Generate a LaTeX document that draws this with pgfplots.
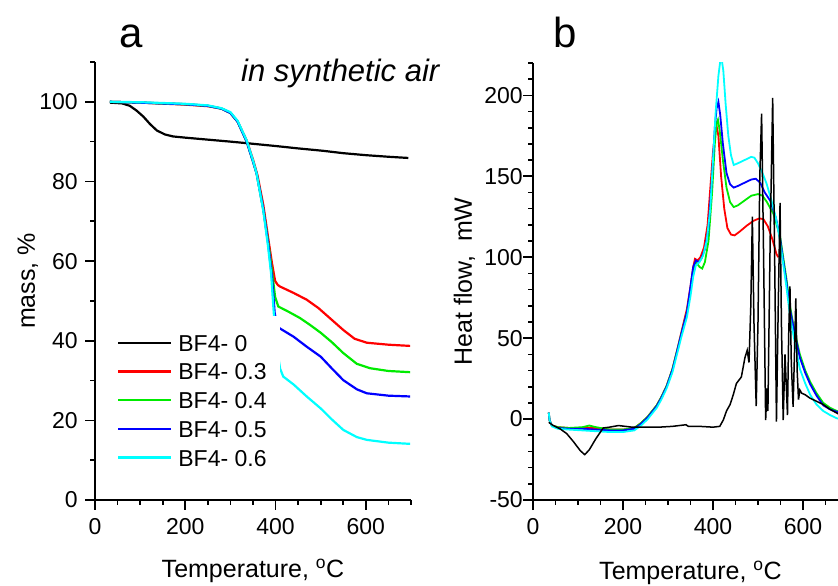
\documentclass[border=0pt]{standalone}
\usepackage{fontspec}
\setmainfont{Liberation Sans}
\usepackage{pgfplots}
\pgfplotsset{compat=1.18}
\definecolor{cR}{RGB}{255,0,0}
\definecolor{cG}{RGB}{0,235,0}
\definecolor{cB}{RGB}{0,0,255}
\definecolor{cC}{RGB}{0,255,255}
\pgfplotsset{
  myaxis/.style={
    scale only axis, anchor=south west,
    axis x line*=bottom, axis y line*=left,
    axis line style={line width=1.6pt},
    tick align=outside,
    major tick length=10pt, minor tick length=5pt,
    tick style={line width=1.6pt, black},
    tick label style={font=\fontsize{23}{23}\selectfont},
    label style={font=\fontsize{25}{25}\selectfont},
    xlabel={Temperature, \textsuperscript{o}C},
    xmin=0, xmax=700,
    xtick={0,200,400,600}, xticklabels={0,200,400,600},
    minor xtick={50,100,...,700},
    xticklabel style={yshift=-4.7pt},
  }
}
\begin{document}
\begin{tikzpicture}
\useasboundingbox (0pt,0pt) rectangle (838pt,586pt);
% ---------------- panel a ----------------
\begin{axis}[myaxis, at={(95pt,86pt)}, width=316pt, height=438pt,
  ymin=0, ymax=110,
  ytick={0,20,40,60,80,100}, yticklabels={0,20,40,60,80,100},
  minor ytick={10,30,50,70,90,110},
  yticklabel style={xshift=-3.7pt},
  ylabel={mass, \%},
  xlabel style={at={(axis description cs:0.5,-0.178)}, anchor=base},
  ylabel style={at={(axis description cs:-0.19,0.5)}, anchor=base},
  legend style={at={(0.0285,0.42)}, anchor=north west, fill=white, draw=none,
    font=\fontsize{23}{23}\selectfont,
    nodes={inner sep=0pt, text height=17pt, text depth=0pt},
    row sep=11.7pt, column sep=6pt, inner xsep=13pt, inner ysep=18pt},
  legend cell align=left,
  legend image code/.code={\draw[#1] (0pt,0pt) -- (53pt,0pt);},
  every axis plot/.append style={line width=2.2pt},
]
\addplot[black] coordinates {(33,99.8)(60,99.6)(77,99)(92,97.8)(107,96.3)(122,94.4)(137,92.8)(155,91.8)(173,91.3)(200,91.0)(250,90.5)(300,90.0)(328,89.7)(400,88.9)(450,88.3)(505,87.7)(550,87.1)(600,86.6)(650,86.2)(694,85.9)};
\addlegendentry{BF4- 0}
\addplot[cR] coordinates {(33,100)(100,99.8)(200,99.3)(250,98.9)(280,98.3)(300,97.2)(316,95)(336,90.3)(350,85.5)(360,81.5)(373,74)(384,65.5)(392,59.5)(399,55)(405,54)(410,53.6)(440,52)(469,50.3)(495,48.2)(520,45.7)(550,42.7)(575,40.5)(602,39.5)(650,39)(698,38.7)};
\addlegendentry{BF4- 0.3}
\addplot[cG] coordinates {(33,100)(100,99.8)(200,99.4)(250,99)(280,98.3)(300,97.2)(316,95)(336,90)(350,85)(358,82)(373,72.9)(384,64.5)(392,57.5)(399,51)(406,48.6)(430,47.2)(454,45.7)(476,44)(500,42)(525,39.6)(550,36.9)(580,34.2)(609,33.1)(650,32.4)(698,32.1)};
\addlegendentry{BF4- 0.4}
\addplot[cB] coordinates {(33,100)(100,99.8)(200,99.4)(250,99)(280,98.3)(300,97.2)(316,95)(336,90)(350,85)(358,82)(373,72.9)(384,64)(392,56)(398,47)(403,44)(408,43.2)(440,41)(469,38.5)(500,36)(525,33)(550,30.1)(580,27.8)(602,26.8)(650,26.2)(698,26.0)};
\addlegendentry{BF4- 0.5}
\addplot[cC] coordinates {(33,100)(100,99.9)(200,99.5)(250,99.1)(280,98.4)(300,97.4)(316,95.2)(336,90.3)(350,85.3)(358,82)(373,72.5)(383,64)(390,57)(396,47)(402,40)(406,36)(410,33)(417,31)(440,29)(469,26)(500,23)(525,20.2)(550,17.6)(580,15.8)(602,15.1)(650,14.4)(698,14.1)};
\addlegendentry{BF4- 0.6}
\end{axis}
% ---------------- panel b ----------------
\begin{axis}[myaxis, at={(533pt,86pt)}, width=315pt, height=437pt,
  ymin=-50, ymax=220,
  ytick={-50,0,50,100,150,200}, yticklabels={-50,0,50,100,150,200},
  minor ytick={-40,-30,...,220},
  yticklabel style={xshift=3.3pt},
  ylabel={Heat flow,\hspace{0.55em}mW},
  xlabel style={at={(axis description cs:0.5,-0.181)}, anchor=base},
  ylabel style={at={(axis description cs:-0.194,0.5)}, anchor=base},
  every axis plot/.append style={line width=1.8pt},
]
\addplot[cR] coordinates {(35,4)(37,-1)(42,-4)(55,-5)(80,-5.5)(110,-5.5)(140,-5.5)(170,-6.5)(200,-6.5)(225,-5.5)(240,-2.5)(255,1.5)(265,5)(275,8.5)(285,13.5)(297,20.5)(310,31)(319,41)(330,54)(342,68)(350,82)(356,94)(360,99)(366,98)(372,100)(380,106)(388,120)(393,139)(400,165)(405,178)(408,181)(412,175)(418,150)(425,130)(432,118)(440,114)(448,113.5)(460,116)(475,119.5)(490,122.5)(503,124)(512,123.5)(522,119)(532,111)(541,102)(545,100)};
\addplot[cG] coordinates {(35,4)(37,-1)(42,-4)(55,-5)(80,-5.5)(110,-5)(125,-4)(140,-5)(170,-6.5)(200,-6.5)(225,-5.5)(240,-2.5)(255,1.5)(265,5)(275,8.5)(285,13.5)(297,20.5)(310,31)(319,41)(330,53)(342,66)(350,80)(356,92)(362,97)(370,94)(376,93)(382,97)(390,110)(398,140)(404,170)(408,183)(411,185)(415,178)(422,160)(430,143)(438,134)(446,131)(455,132)(470,135)(485,138)(500,139)(510,138)(520,134)(534,127)(549,113)(556,100)(563,87)(571,70)(580,56)(593,40)(605,30)(616,23)(630,16)(645,10)(660,7)(675,5)(700,3.5)};
\addplot[cB] coordinates {(35,4)(37,-1)(42,-4)(55,-5.5)(80,-6)(110,-6)(140,-6.5)(170,-7)(200,-7)(225,-6)(240,-3)(255,1)(265,4.5)(275,8)(285,13)(297,20)(310,30.5)(319,40.5)(330,53)(342,66)(350,82)(356,94)(362,98)(368,97)(374,99)(382,105)(390,118)(398,150)(404,180)(408,192)(412,196)(416,188)(422,170)(430,152)(438,145)(446,143)(455,144)(470,146)(485,148)(495,148.5)(505,146)(515,140)(527,135)(540,124)(549,112)(556,98)(563,85)(571,68)(580,55)(593,38)(605,28.5)(616,21.5)(630,14.5)(645,8.5)(660,6)(675,4.5)(700,2.5)};
\addplot[cC] coordinates {(35,4)(37,-1)(42,-4.5)(55,-6)(80,-6.5)(110,-7)(140,-7.5)(170,-8)(200,-8)(225,-7)(240,-4)(255,0)(265,3.5)(275,7)(285,12)(297,19)(310,29)(319,39)(330,51)(342,63)(350,76)(356,88)(362,95)(370,97)(378,101)(386,110)(394,130)(400,160)(406,190)(412,212)(416,221)(419,223)(423,215)(428,195)(434,175)(440,163)(446,157)(455,158)(470,160)(485,162)(492,161.5)(500,158)(510,152)(519,145.5)(530,135)(540,124)(549,110)(556,96)(563,82)(571,64)(580,50)(593,31)(605,22)(616,15)(630,9)(645,5)(660,2.5)(675,0.5)(700,-1)};
\addplot[black, line width=1.5pt] coordinates {(35,-2)(45,-4)(60,-6)(75,-9)(90,-14)(105,-19.5)(115,-22)(125,-19)(140,-12)(156,-5.5)(170,-5)(190,-4)(220,-5)(250,-5)(280,-5)(310,-4.5)(340,-3.5)(345,-4.5)(370,-4.5)(400,-5)(415,-4.5)(423,-0.5)(430,5)(438,9)(445,15)(452,22)(463,26)(471,38)(476,42.5)(480,35)(484,70)(487.4,125)(491,60)(496,8)(500,60)(504,150)(508,188.7)(512,110)(517,-0.6)(520,19)(522,5)(527,110)(532.6,198.5)(537,100)(541,-1.6)(545,70)(549,133.5)(552,60)(556,-0.6)(560,40)(565.5,2.5)(568,50)(571,82)(574,35)(578,7.6)(581,40)(584,74.5)(587,30)(590,12)(593,18)(597,16)(605,15)(615,13)(630,11)(645,9)(660,6)(680,3)(700,1)};
\end{axis}
% ---------------- texts ----------------
\node[anchor=base west, inner sep=0pt, font=\fontsize{42}{42}\selectfont] at (119.5pt,538.7pt) {a};
\node[anchor=base west, inner sep=0pt, font=\fontsize{42}{42}\selectfont] at (553pt,538.7pt) {b};
\node[anchor=base west, inner sep=0pt, font=\fontsize{31}{31}\selectfont\itshape] at (241pt,504pt) {in synthetic air};
\end{tikzpicture}
\end{document}
